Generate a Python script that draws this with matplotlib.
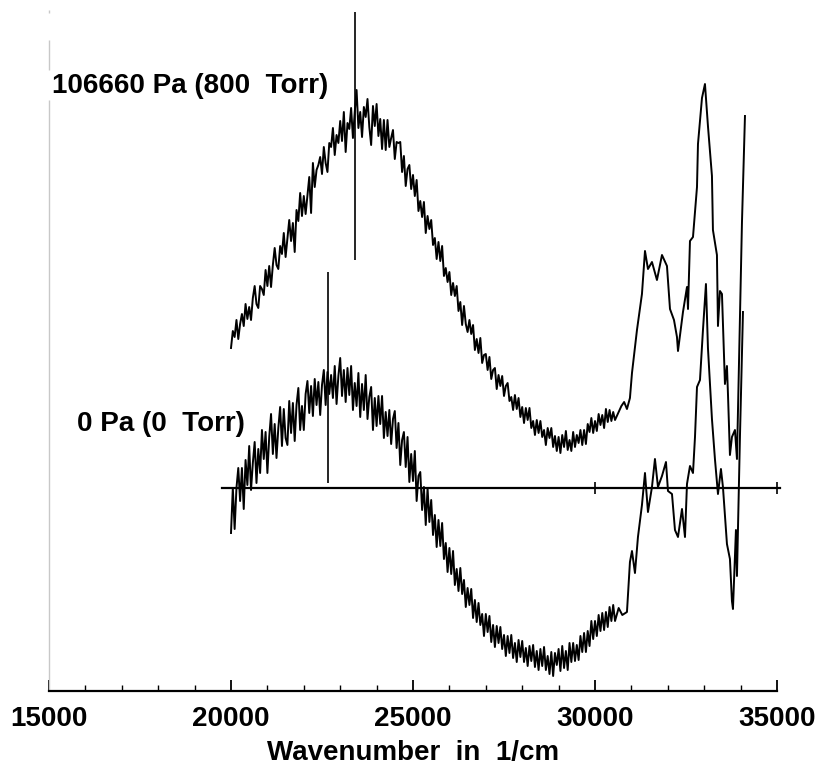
import numpy as np
import matplotlib
matplotlib.use("Agg")
import matplotlib.pyplot as plt
from matplotlib.ticker import MultipleLocator

plt.rcParams['font.family'] = ['Liberation Sans', 'DejaVu Sans']

# ---------------- data ----------------
# noisy region sampled every 50 1/cm starting at 20000 1/cm
wn_start = 20000
wn_step = 50

upper_noisy = [140, 157, 151, 168, 149, 164, 174, 162, 184, 169,
               181, 168, 190, 202, 184, 180, 202, 199, 193, 218,
               202, 222, 201, 223, 240, 223, 219, 242, 234, 255,
               231, 250, 268, 247, 265, 236, 278, 267, 295, 272,
               292, 274, 293, 311, 275, 325, 301, 318, 323, 331,
               314, 341, 325, 316, 345, 341, 360, 333, 353, 345,
               367, 347, 376, 336, 365, 359, 380, 350, 376, 398,
               360, 376, 351, 381, 371, 389, 361, 343, 382, 362,
               384, 352, 369, 339, 368, 338, 368, 341, 350, 358,
               329, 346, 345, 346, 316, 332, 302, 319, 323, 299,
               313, 292, 308, 277, 287, 271, 286, 255, 272, 259,
               268, 243, 250, 229, 246, 227, 242, 212, 220, 206,
               216, 193, 205, 192, 202, 177, 186, 163, 182, 164,
               156, 168, 154, 163, 138, 149, 135, 150, 125, 133,
               134, 118, 131, 109, 118, 120, 99, 113, 102, 112,
               92, 102, 105, 87, 91, 78, 93, 79, 90, 71,
               81, 65, 80, 68, 80, 60, 67, 53, 68, 55,
               67, 51, 58, 43, 60, 50, 60, 41, 52, 37,
               51, 35, 53, 41, 57, 38, 48, 37, 56, 41,
               53, 45, 58, 43, 58, 44, 64, 56, 70, 55,
               67, 57, 74, 63, 73, 60, 79, 66, 78, 67,
               76, 68]

lower_noisy = [-45, 0, -41, 0, 20, -13, 20, -21,
               28, 3, 42, -2, 25, 46, 5, 39,
               15, 58, 29, 56, 15, 51, 74, 34,
               64, 30, 60, 81, 42, 79, 50, 43,
               87, 55, 85, 47, 83, 100, 58, 82,
               58, 94, 107, 75, 102, 72, 109, 83,
               106, 73, 103, 118, 83, 116, 94, 113,
               90, 122, 84, 112, 130, 92, 118, 86,
               120, 93, 122, 78, 105, 82, 115, 71,
               104, 78, 113, 69, 91, 101, 58, 90,
               62, 92, 64, 92, 50, 76, 52, 78,
               44, 69, 77, 40, 65, 23, 48, 56,
               21, 51, 6, 34, 7, 37, -13, 12,
               16, -22, 1, -37, 0, -34, -12, -47,
               -27, -59, -32, -58, -35, -71, -55, -84,
               -60, -86, -63, -97, -81, -103, -80, -106,
               -92, -119, -100, -117, -101, -130, -112, -134,
               -115, -137, -126, -148, -126, -144, -128, -154,
               -137, -159, -138, -155, -139, -161, -147, -168,
               -148, -165, -147, -170, -155, -174, -152, -169,
               -153, -174, -160, -178, -158, -173, -157, -179,
               -163, -182, -161, -178, -159, -182, -168, -186,
               -164, -188, -165, -177, -161, -183, -158, -180,
               -163, -182, -155, -174, -155, -173, -157, -172,
               -148, -164, -145, -164, -143, -158, -133, -151,
               -133, -148, -127, -143, -125, -142, -124, -139,
               -119, -133, -117, -133]

# structured (less noisy) high-wavenumber region
upper_tail_wn = [30650, 30725, 30800, 30878, 30960, 31016, 31153, 31290, 31373, 31455, 31565,
                 31702, 31840, 31977, 32060, 32170, 32252, 32280, 32417, 32527, 32555, 32609,
                 32692, 32802, 32829, 32939, 33021, 33103, 33213, 33240, 33350, 33378, 33433,
                 33488, 33570, 33625, 33653, 33707, 33762, 33845, 33900, 33955, 34037, 34120]
upper_tail_val = [76, 82, 86, 79, 90, 115, 158, 194, 237, 219, 226,
                  208, 233, 222, 179, 168, 151, 137, 176, 201, 179, 247,
                  251, 301, 344, 390, 404, 362, 312, 258, 233, 162, 197,
                  194, 104, 122, 94, 33, 51, 58, 29, 122, 265, 372]

lower_tail_wn = [30650, 30750, 30878, 30960, 31016, 31098, 31180, 31290, 31373, 31455, 31565,
                 31647, 31730, 31840, 31950, 32005, 32115, 32197, 32280, 32390, 32472, 32527,
                 32609, 32692, 32747, 32802, 32884, 32966, 33048, 33103, 33213, 33295, 33378,
                 33460, 33515, 33625, 33707, 33762, 33790, 33872, 33900, 33982, 34065]
lower_tail_val = [-120, -127, -124, -74, -63, -85, -49, -17, 15, -24, 1,
                  29, 1, 12, 26, -3, -6, -42, -49, -21, -49, 4,
                  22, 15, 51, 101, 108, 158, 204, 140, 69, 29, -6,
                  19, 1, -56, -71, -113, -121, -42, -88, 51, 176]

# sharp spikes (laser lines)
spike_wn = [23407, 22665]
spike_lo = [228, 5]
spike_hi = [476, 216]

zero_line_span = [19750, 35080]
zero_line_ticks = [30000, 35000]

label_upper = "106660 Pa (800  Torr)"
label_lower = "0 Pa (0  Torr)"
xlabel = "Wavenumber  in  1/cm"

# ---------------- build ----------------
wn_up = [wn_start + wn_step * i for i in range(len(upper_noisy))] + upper_tail_wn
wn_lo = [wn_start + wn_step * i for i in range(len(lower_noisy))] + lower_tail_wn
y_up = upper_noisy + upper_tail_val
y_lo = lower_noisy + lower_tail_val

fig = plt.figure(figsize=(8.18, 7.76), dpi=100)
ax = fig.add_axes([49 / 818, 85 / 776, 728 / 818, 691 / 776])

ax.plot(wn_up, y_up, color='black', lw=1.4)
ax.plot(wn_lo, y_lo, color='black', lw=1.4)
ax.vlines(spike_wn, spike_lo, spike_hi, color='black', lw=1.2)

ax.plot(zero_line_span, [0, 0], color='black', lw=1.6, clip_on=False)
ax.vlines(zero_line_ticks, -6, 6, color='black', lw=1.2, clip_on=False)

ax.set_xlim(15000, 35000)
ax.set_ylim(-203, 488)

for s in ['top', 'right', 'left']:
    ax.spines[s].set_visible(False)
# light grey left axis line (interrupted behind the upper label)
ax.vlines([15000, 15000, 15000], [418, -203, 475], [448, 388, 478],
          color='#c8c8c8', lw=1.0, clip_on=False)
ax.spines['bottom'].set_linewidth(1.6)

ax.set_yticks([])
ax.xaxis.set_major_locator(MultipleLocator(5000))
ax.xaxis.set_minor_locator(MultipleLocator(1000))
ax.tick_params(axis='x', which='major', direction='in', length=8, width=1.3, pad=10.5,
               labelsize=20)
ax.tick_params(axis='x', which='minor', direction='in', length=4, width=1.0)
for lab in ax.get_xticklabels():
    lab.set_fontweight('bold')

ax.set_xlabel(xlabel, fontsize=20, fontweight='bold', labelpad=6)

ax.text(15080, 395, label_upper, fontsize=20, fontweight='bold', ha='left', va='baseline')
ax.text(15780, 57, label_lower, fontsize=20, fontweight='bold', ha='left', va='baseline')

fig.savefig('out.png', dpi=100)
